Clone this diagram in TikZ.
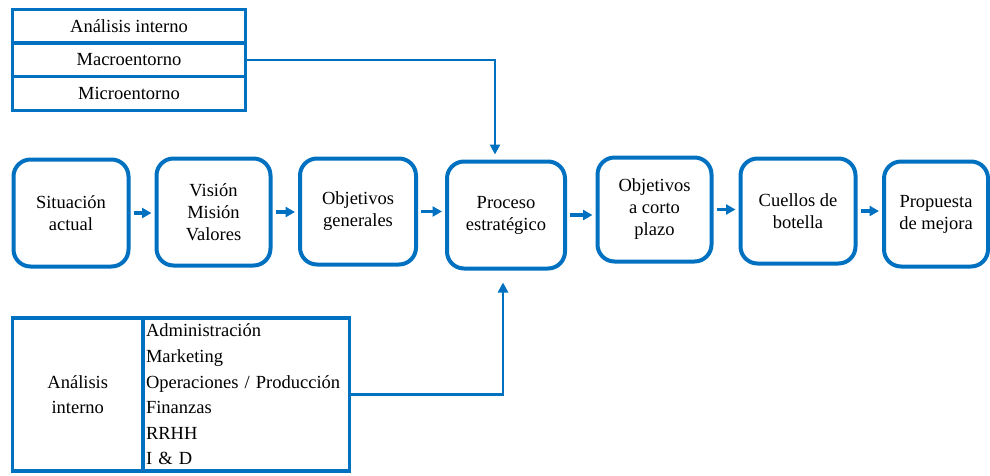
\documentclass[tikz,border=0pt]{standalone}
\usepackage{fontspec}
\setmainfont{Liberation Serif}
\usetikzlibrary{arrows.meta,calc}
\definecolor{azul}{RGB}{0,112,192}
\tikzset{
  tcell/.style={draw=azul, line width=3.2pt, minimum width=233pt, minimum height=33.5pt,
    inner sep=0pt, font=\fontsize{18.5}{21.5}\selectfont},
  stage/.style={draw=azul, line width=4pt, rounded corners=17pt, align=center,
    inner sep=0pt, font=\fontsize{18.5}{22}\selectfont},
  flow/.style={draw=azul, line width=3.2pt, -{Triangle[length=9.5pt,width=10pt]},
    shorten <=3pt, shorten >=3pt},
  link/.style={draw=azul, line width=2.6pt, -{Triangle[length=10pt,width=10pt]}},
  bcell/.style={draw=azul, line width=3.2pt, minimum height=153pt, inner sep=0pt,
    font=\fontsize{18.5}{25.6}\selectfont},
}
\begin{document}
\begin{tikzpicture}[x=1pt,y=-1pt]
\useasboundingbox (0,0) rectangle (990,475);

% environment analysis table
\node[tcell] (t1) at (129,26) {Análisis interno};
\node[tcell] (t2) at (129,60) {Macroentorno};
\node[tcell] (t3) at (129,93.5) {Microentorno};

% main sequence of stages
\node[stage, minimum width=115pt, minimum height=107pt] (b1) at (71,213) {Situación\\actual};
\node[stage, minimum width=114pt, minimum height=107pt] (b2) at (213.5,212) {Visión\\Misión\\Valores};
\node[stage, minimum width=116pt, minimum height=106pt] (b3) at (358,211.5) {Objetivos\\generales};
\node[stage, minimum width=118pt, minimum height=107pt] (b4) at (506,215) {Proceso\\estratégico};
\node[stage, minimum width=114pt, minimum height=104pt] (b5) at (654.5,209.5) {Objetivos\\a corto\\plazo};
\node[stage, minimum width=115pt, minimum height=105pt] (b6) at (798,211) {Cuellos de\\botella};
\node[stage, minimum width=104pt, minimum height=105pt] (b7) at (936,214) {Propuesta\\de mejora};

\draw[flow] (b1.east) -- (b2.west |- b1.east);
\draw[flow] (b2.east) -- (b3.west |- b2.east);
\draw[flow] (b3.east) -- (b4.west |- b3.east);
\draw[flow] (b4.east) -- (b5.west |- b4.east);
\draw[flow] (b5.east) -- (b6.west |- b5.east);
\draw[flow] (b6.east) -- (b7.west |- b6.east);

% internal analysis table
\node[bcell, minimum width=130.5pt, align=center] (bl) at (77.75,394.5) {Análisis\\interno};
\node[bcell, minimum width=206.5pt, text width=200.5pt, inner xsep=3pt, align=left] (br) at (246.25,394.5)
  {Administración\\Marketing\\Operaciones / Producción\\Finanzas\\RRHH\\I \& D};

% feeds into the strategic process
\coordinate (inTop) at ($(b4.north)+(-11,-5)$);
\coordinate (inBot) at ($(b4.south)+(-3,12)$);
\draw[link] (t2.east) -| (inTop);
\draw[link] (br.east) -| (inBot);
\end{tikzpicture}
\end{document}
